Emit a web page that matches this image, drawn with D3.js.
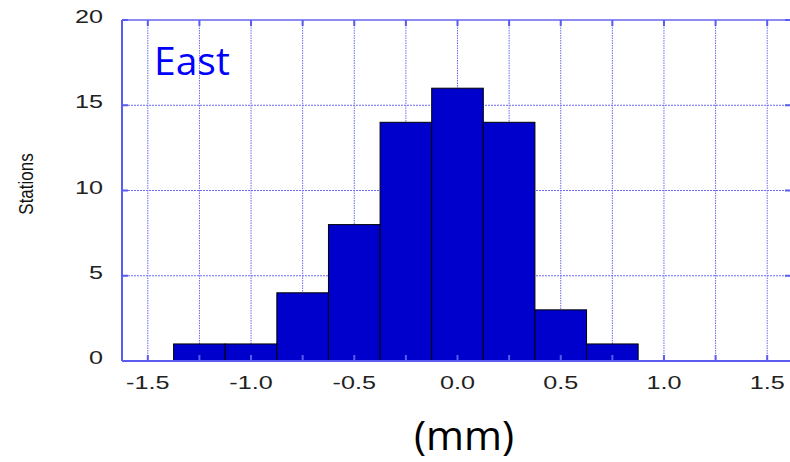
<!DOCTYPE html>
<html>
<head>
<meta charset="utf-8">
<script src="https://cdn.jsdelivr.net/npm/d3@7"></script>
<style>
  body { margin: 0; background: white; }
  svg { display: block; }
</style>
</head>
<body>
<script>
// histogram bins (centre of each 0.25 mm bin) and station counts
var binCenters = [-1.25, -1.0, -0.75, -0.5, -0.25, 0.0, 0.25, 0.5, 0.75]
var counts = [1, 1, 4, 8, 14, 16, 14, 3, 1]
var binWidth = 0.25
var xTicks = [-1.5, -1.0, -0.5, 0.0, 0.5, 1.0, 1.5]
var yTicks = [0, 5, 10, 15, 20]

var width = 790, height = 462

var svg = d3.select("body").append("svg")
	.attr("width", width)
	.attr("height", height)

var x = d3.scaleLinear().domain([-1.625, 1.625]).range([122, 793])
var y = d3.scaleLinear().domain([0, 20]).range([361, 20])

var axisBlue = "#5b5bef"
var gridBlue = "#6a6af2"

// dotted grid lines
var vgrid = d3.range(-1.5, 1.51, 0.25)
svg.append("g").selectAll("line").data(vgrid).enter().append("line")
	.attr("x1", d => x(d)).attr("x2", d => x(d))
	.attr("y1", y(20)).attr("y2", y(0))
	.attr("stroke", gridBlue).attr("stroke-width", 1)
	.attr("stroke-dasharray", "1.5,1")

svg.append("g").selectAll("line").data([5, 10, 15]).enter().append("line")
	.attr("x1", x.range()[0]).attr("x2", x.range()[1])
	.attr("y1", d => y(d)).attr("y2", d => y(d))
	.attr("stroke", gridBlue).attr("stroke-width", 1)
	.attr("stroke-dasharray", "2,1")

// bars
svg.append("g").selectAll("rect").data(binCenters).enter().append("rect")
	.attr("x", d => x(d - binWidth / 2))
	.attr("width", d => x(d + binWidth / 2) - x(d - binWidth / 2))
	.attr("y", (d, i) => y(counts[i]))
	.attr("height", (d, i) => y(0) - y(counts[i]))
	.attr("fill", "#0000cc")
	.attr("stroke", "#000")
	.attr("stroke-width", 1)

// frame (left, top, bottom, right)
var frame = svg.append("g").attr("stroke", axisBlue).attr("fill", "none")
frame.append("line").attr("x1", x.range()[0]).attr("x2", x.range()[0]).attr("y1", y(20)).attr("y2", y(0)).attr("stroke-width", 2)
frame.append("line").attr("x1", x.range()[0]).attr("x2", width).attr("y1", y(20)).attr("y2", y(20)).attr("stroke-width", 2).attr("stroke-opacity", 0.7)
frame.append("line").attr("x1", x.range()[0]).attr("x2", width).attr("y1", y(0)).attr("y2", y(0)).attr("stroke-width", 2)

// tick marks
vgrid.forEach(function(d) {
	frame.append("line").attr("x1", x(d)).attr("x2", x(d)).attr("y1", y(20)).attr("y2", y(20) + 6).attr("stroke-width", 2)
	frame.append("line").attr("x1", x(d)).attr("x2", x(d)).attr("y1", y(0)).attr("y2", y(0) - 6).attr("stroke-width", 2)
})
yTicks.forEach(function(d) {
	frame.append("line").attr("x1", x.range()[0]).attr("x2", x.range()[0] + 6).attr("y1", y(d)).attr("y2", y(d)).attr("stroke-width", 2)
	frame.append("line").attr("x1", x.range()[1]).attr("x2", x.range()[1] - 8).attr("y1", y(d)).attr("y2", y(d)).attr("stroke-width", 2)
})

// tick labels (stretched sans)
var labelFont = "'Liberation Sans', Arial, sans-serif"
svg.append("g").selectAll("text").data(xTicks).enter().append("text")
	.attr("transform", d => "translate(" + x(d) + "," + 389 + ") scale(1.4,1)")
	.attr("text-anchor", "middle")
	.attr("font-family", labelFont).attr("font-size", 18)
	.attr("fill", "#222")
	.text(d => d.toFixed(1))

svg.append("g").selectAll("text").data(yTicks).enter().append("text")
	.attr("transform", d => "translate(" + 103 + "," + (y(d) + 3) + ") scale(1.4,1)")
	.attr("text-anchor", "end")
	.attr("font-family", labelFont).attr("font-size", 18)
	.attr("fill", "#222")
	.text(d => d)

// axis titles
svg.append("text")
	.attr("transform", "translate(33,184) rotate(-90) scale(1,1.15)")
	.attr("text-anchor", "middle")
	.attr("font-family", labelFont).attr("font-size", 17)
	.attr("fill", "#111")
	.text("Stations")

svg.append("text")
	.attr("x", 464).attr("y", 450)
	.attr("text-anchor", "middle")
	.attr("font-family", "'Open Sans', sans-serif").attr("font-size", 41)
	.attr("fill", "#000")
	.text("(mm)")

svg.append("text")
	.attr("x", 154).attr("y", 75)
	.attr("font-family", "'Open Sans', sans-serif").attr("font-size", 39)
	.attr("fill", "#0000ff")
	.text("East")
</script>
</body>
</html>
